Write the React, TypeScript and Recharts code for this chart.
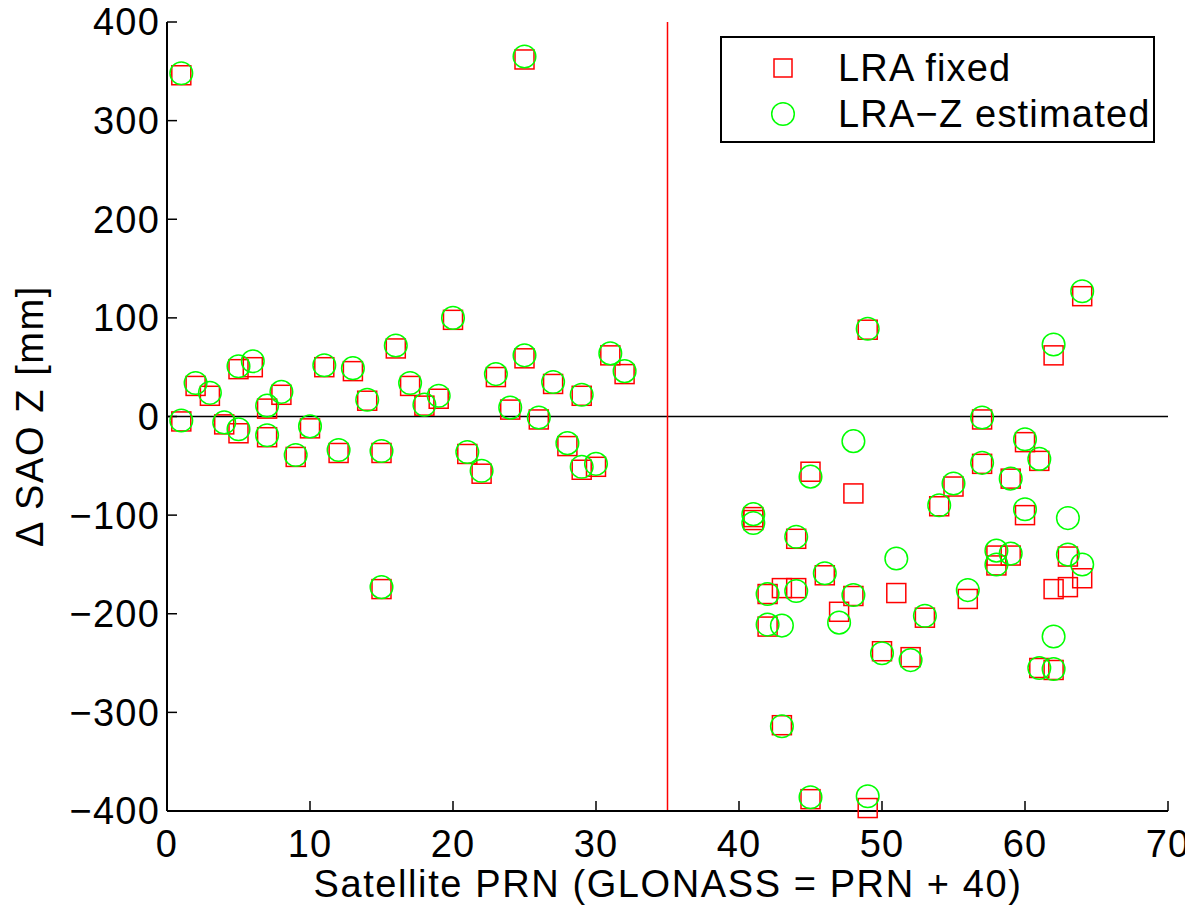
import { ScatterChart, Scatter, XAxis, YAxis, ReferenceLine, Legend } from "recharts";

// Satellite PRN (GLONASS = PRN + 40), one entry per point
const prn = [
  1, 1, 2, 3, 4, 5, 5, 6, 7, 7, 8, 9, 10, 11, 12, 13, 14, 15, 15, 16,
  17, 18, 19, 20, 21, 22, 23, 24, 25, 25, 26, 27, 28, 29, 29, 30, 31, 32,
  41, 41, 42, 42, 43, 43, 44, 44, 45, 45, 46, 47, 48, 48, 49, 49, 50, 51,
  52, 53, 54, 55, 56, 57, 57, 58, 58, 59, 59, 60, 60, 61, 61, 62, 62, 62,
  63, 63, 64, 64,
];

// Delta SAO Z [mm], LRA fixed
const lraFixed = [
  346, -5, 31, 21, -8, 48, -17, 50, 8, -21, 22, -41, -12, 50, -37, 46, 16, -37, -175, 69,
  31, 11, 18, 98, -38, -58, 40, 7, 362, 59, -3, 33, -30, 21, -54, -51, 62, 43,
  -102, -105, -180, -213, -313, -174, -124, -174, -56, -388, -161, -198, -78, -182, 88, -397, -238, -179,
  -244, -204, -91, -71, -185, -3, -48, -141, -151, -63, -141, -26, -100, -45, -255, 62, -175, -257,
  -142, -173, 122, -164,
];

// Delta SAO Z [mm], LRA-Z estimated
const lraZEst = [
  348, -4, 34, 24, -6, 51, -13, 56, 11, -19, 25, -39, -10, 52, -34, 49, 17, -35, -173, 72,
  34, 12, 21, 100, -36, -55, 43, 9, 365, 62, -1, 35, -27, 22, -51, -48, 64, 46,
  -99, -108, -180, -211, -314, -212, -122, -177, -61, -386, -159, -209, -25, -181, 89, -385, -240, -144,
  -247, -202, -90, -68, -176, -1, -47, -136, -150, -63, -139, -23, -94, -43, -255, 73, -223, -256,
  -140, -103, 127, -150,
];

const xTicks = [0, 10, 20, 30, 40, 50, 60, 70];
const yTicks = [-400, -300, -200, -100, 0, 100, 200, 300, 400];
const glonassSplit = 35;

const fixedPts = prn.map((x, i) => ({ x, y: lraFixed[i] }));
const estPts = prn.map((x, i) => ({ x, y: lraZEst[i] }));

const FONT = "'Liberation Sans', Arial, Helvetica, sans-serif";
const fontSize = 38;
const tickStyle = { fill: "#000", fontSize, fontFamily: FONT, letterSpacing: 1.2 };
const fmt = (v: number) => String(v).replace("-", "\u2212");

const SquareMark = (props: any) => (
  <rect x={props.cx - 9.5} y={props.cy - 9.5} width={19} height={19} fill="none" stroke="#ff0000" strokeWidth={1.5} />
);
const CircleMark = (props: any) => (
  <circle cx={props.cx} cy={props.cy} r={11.3} fill="none" stroke="#00ff00" strokeWidth={1.5} />
);

function LegendBox({ payload }: any) {
  return (
    <div
      style={{
        border: "2px solid #000",
        background: "#fff",
        boxSizing: "border-box",
        width: 435,
        height: 107,
        paddingTop: 7,
        fontFamily: FONT,
        fontSize,
        letterSpacing: 1.2,
        color: "#000",
      }}
    >
      {(payload || []).map((entry: any) => (
        <div key={entry.value} style={{ display: "flex", alignItems: "center", height: 46 }}>
          <svg width={116} height={30} style={{ flex: "none" }}>
            {entry.value === "LRA fixed" ? (
              <rect x={52} y={6} width={18} height={18} fill="none" stroke="#ff0000" strokeWidth={1.5} />
            ) : (
              <circle cx={61} cy={15} r={11.3} fill="none" stroke="#00ff00" strokeWidth={1.5} />
            )}
          </svg>
          <span style={{ lineHeight: 1 }}>{entry.value}</span>
        </div>
      ))}
    </div>
  );
}

export default function App() {
  return (
    <div style={{ position: "relative", left: -8, top: -8, width: 1193, height: 906, background: "#fff" }}>
      <ScatterChart width={1193} height={906} margin={{ top: 22, right: 25, left: 87, bottom: 35 }}>
        <XAxis
          xAxisId={0}
          type="number"
          dataKey="x"
          domain={[0, 70]}
          ticks={xTicks}
          interval={0}
          tickSize={-10}
          tickMargin={29}
          height={60}
          tick={tickStyle}
          axisLine={{ stroke: "#000", strokeWidth: 2 }}
          tickLine={{ stroke: "#000", strokeWidth: 1.5 }}
          label={{
            content: () => (
              <text x={668} y={897} textAnchor="middle" fill="#000" fontSize={fontSize} fontFamily={FONT} letterSpacing={1.6}>
                Satellite PRN (GLONASS = PRN + 40)
              </text>
            ),
          }}
        />
        <XAxis
          xAxisId="top"
          orientation="top"
          type="number"
          dataKey="x"
          domain={[0, 70]}
          ticks={xTicks}
          interval={0}
          mirror
          height={0}
          tick={false}
          tickSize={10}
          axisLine={{ stroke: "#000", strokeWidth: 2 }}
          tickLine={{ stroke: "#000", strokeWidth: 1.5 }}
        />
        <YAxis
          yAxisId={0}
          type="number"
          dataKey="y"
          domain={[-400, 400]}
          ticks={yTicks}
          interval={0}
          tickSize={-10}
          tickMargin={17}
          width={80}
          tick={tickStyle}
          tickFormatter={fmt}
          axisLine={{ stroke: "#000", strokeWidth: 2 }}
          tickLine={{ stroke: "#000", strokeWidth: 1.5 }}
          label={{
            content: () => (
              <text
                x={43}
                y={416}
                transform="rotate(-90 43 416)"
                textAnchor="middle"
                fill="#000"
                fontSize={fontSize}
                fontFamily={FONT}
                letterSpacing={1.6}
              >
                {"\u0394 SAO Z [mm]"}
              </text>
            ),
          }}
        />
        <YAxis
          yAxisId="right"
          orientation="right"
          type="number"
          dataKey="y"
          domain={[-400, 400]}
          ticks={yTicks}
          interval={0}
          mirror
          width={0}
          tick={false}
          tickSize={10}
          axisLine={{ stroke: "#000", strokeWidth: 2 }}
          tickLine={{ stroke: "#000", strokeWidth: 1.5 }}
        />
        <ReferenceLine xAxisId={0} yAxisId={0} y={0} stroke="#000" strokeWidth={1.5} />
        <ReferenceLine xAxisId={0} yAxisId={0} x={glonassSplit} stroke="#ff0000" strokeWidth={1.5} />
        <Legend
          layout="vertical"
          align="center"
          verticalAlign="middle"
          content={<LegendBox />}
          wrapperStyle={{ left: 720, top: 36, width: 435, height: 107 }}
        />
        <Scatter
          name="LRA fixed"
          data={fixedPts}
          xAxisId={0}
          yAxisId={0}
          fill="#ff0000"
          shape={SquareMark}
          isAnimationActive={false}
        />
        <Scatter
          name={"LRA\u2212Z estimated"}
          data={estPts}
          xAxisId={0}
          yAxisId={0}
          fill="#00ff00"
          shape={CircleMark}
          isAnimationActive={false}
        />
      </ScatterChart>
    </div>
  );
}
